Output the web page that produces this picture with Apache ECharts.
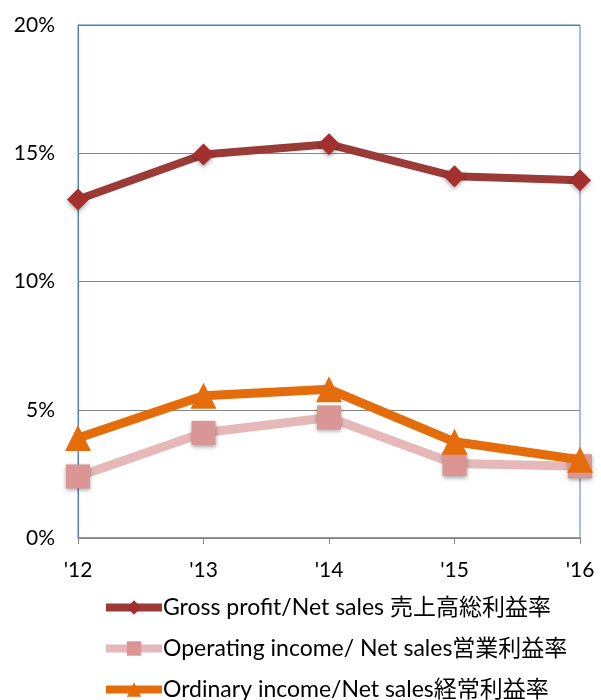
<!DOCTYPE html>
<html>
<head>
<meta charset="utf-8">
<script src="https://cdn.jsdelivr.net/npm/echarts@6/dist/echarts.min.js"></script>
<style>
  html, body { margin: 0; padding: 0; background: #fff; }
  #chart { width: 601px; height: 700px; }
</style>
</head>
<body>
<div id="chart"></div>
<script>
// years on the x axis
const years = ["'12", "'13", "'14", "'15", "'16"]
// ratios in percent
const grossMargin = [13.2, 14.95, 15.35, 14.1, 13.95]
const operatingMargin = [2.4, 4.1, 4.7, 2.9, 2.8]
const ordinaryMargin = [3.9, 5.55, 5.8, 3.75, 3.05]
const seriesNames = [
  'Gross profit/Net sales 売上高総利益率',
  'Operating income/ Net sales営業利益率',
  'Ordinary income/Net sales経常利益率'
]

const font = 'Lato, "Noto Sans CJK JP", sans-serif'
const chart = echarts.init(document.getElementById('chart'))

chart.setOption({
  animation: false,
  textStyle: { fontFamily: font },
  grid: {
    left: 78, right: 21, top: 25, bottom: 162,
    show: true,
    borderColor: '#4F81BD',
    borderWidth: 1
  },
  legend: {
    orient: 'vertical',
    left: 102,
    top: 596,
    height: 120,
    padding: 0,
    itemWidth: 56,
    itemHeight: 18,
    itemGap: 18,
    lineStyle: { width: 8 },
    textStyle: { fontSize: 23, lineHeight: 22, color: '#000', fontFamily: font, padding: [0, 0, 0, -4] },
    data: seriesNames
  },
  xAxis: {
    type: 'category',
    data: years,
    boundaryGap: false,
    axisLine: { lineStyle: { color: '#868686', width: 1.5 } },
    axisTick: { show: true, length: 6, lineStyle: { color: '#868686' } },
    axisLabel: { fontSize: 21, color: '#000', margin: 22, fontFamily: font }
  },
  yAxis: {
    type: 'value',
    min: 0, max: 20, interval: 5,
    axisLine: { show: true, lineStyle: { color: '#4F81BD' } },
    axisTick: { show: false },
    axisLabel: { fontSize: 21, color: '#000', margin: 23, formatter: '{value}%', fontFamily: font },
    splitLine: {
      show: true,
      lineStyle: { color: ['#868686', '#868686', '#868686', '#868686', '#4F81BD'], width: 1.2 }
    }
  },
  series: [
    {
      name: seriesNames[0],
      type: 'line',
      data: grossMargin,
      symbol: 'diamond',
      symbolSize: 22,
      lineStyle: { color: '#9B3B38', width: 8 },
      itemStyle: { color: '#A3302F', shadowBlur: 4, shadowColor: 'rgba(0,0,0,0.35)', shadowOffsetY: 2 },
      z: 3
    },
    {
      name: seriesNames[1],
      type: 'line',
      data: operatingMargin,
      symbol: 'rect',
      symbolSize: 24,
      lineStyle: { color: '#E6B9B8', width: 9 },
      itemStyle: { color: '#D99694', shadowBlur: 4, shadowColor: 'rgba(0,0,0,0.35)', shadowOffsetY: 2 },
      z: 2
    },
    {
      name: seriesNames[2],
      type: 'line',
      data: ordinaryMargin,
      symbol: 'triangle',
      symbolSize: 26,
      lineStyle: { color: '#E46C0A', width: 9 },
      itemStyle: { color: '#E46C0A' },
      z: 3
    }
  ]
})
</script>
</body>
</html>
